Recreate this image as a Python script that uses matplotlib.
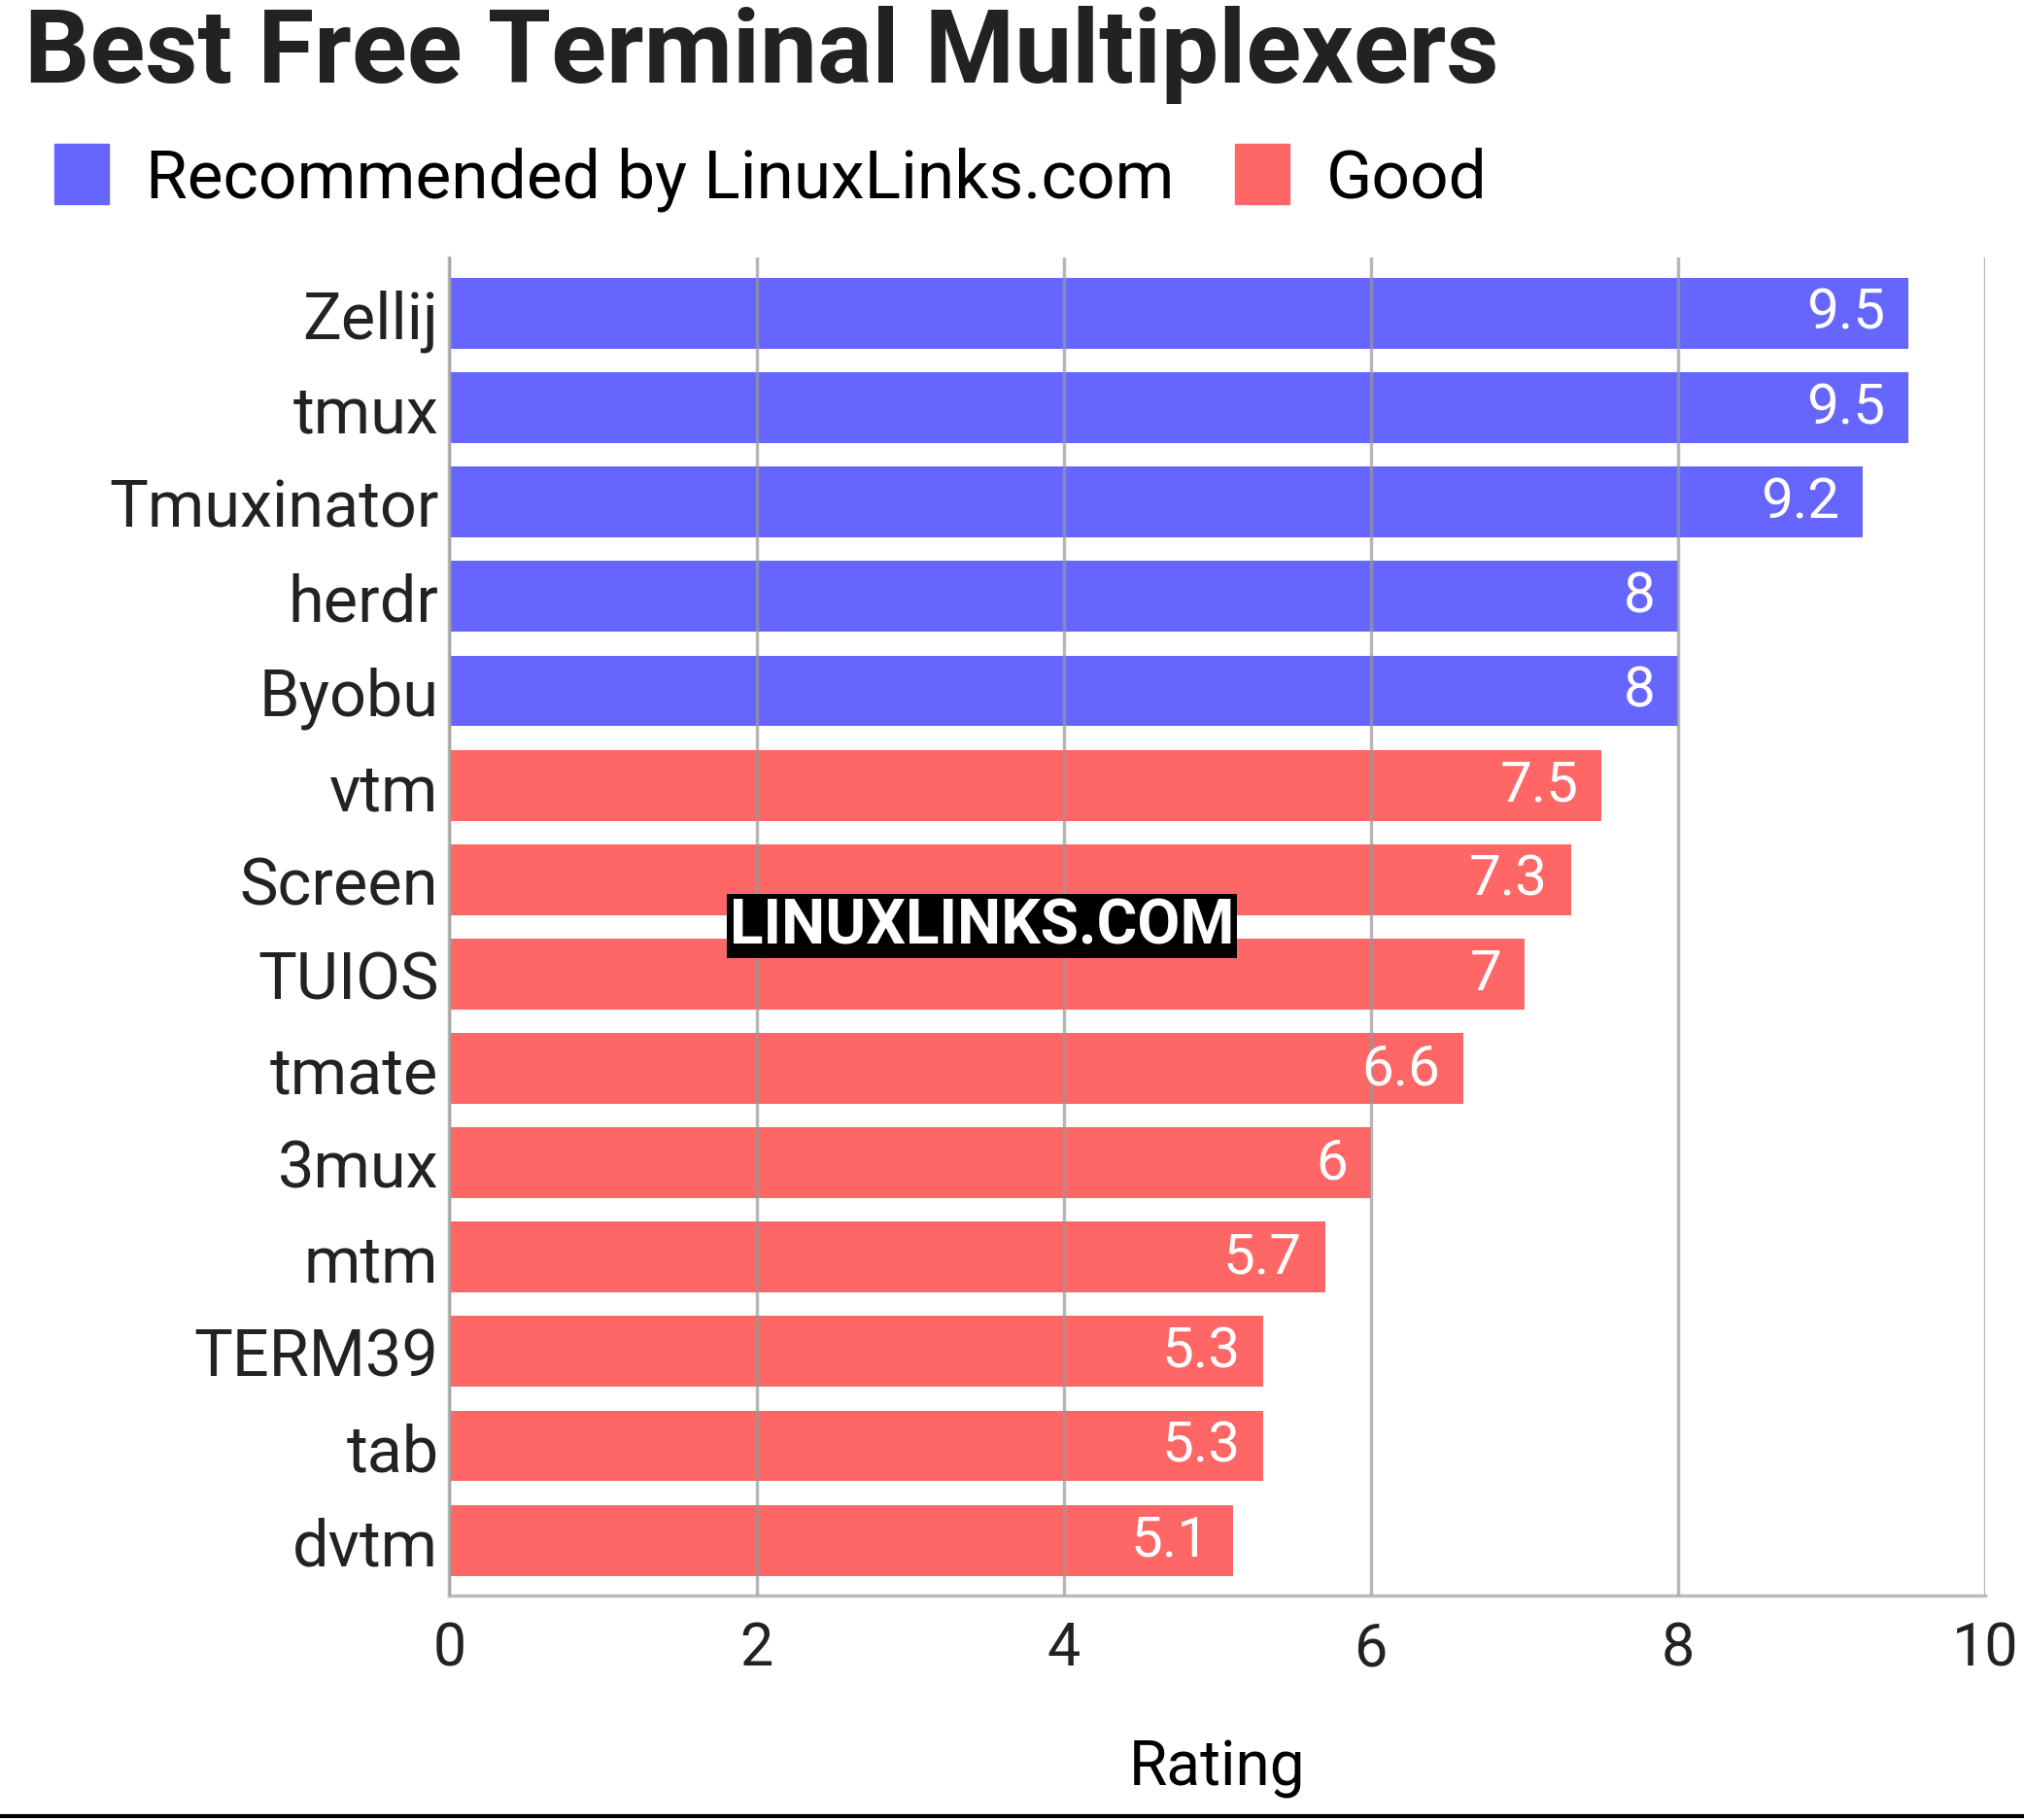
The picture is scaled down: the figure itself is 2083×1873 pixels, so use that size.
import matplotlib.pyplot as plt
from matplotlib.patches import Patch

plt.rcParams['font.family'] = ['Roboto', 'DejaVu Sans']

names = ['Zellij', 'tmux', 'Tmuxinator', 'herdr', 'Byobu', 'vtm', 'Screen', 'TUIOS',
         'tmate', '3mux', 'mtm', 'TERM39', 'tab', 'dvtm']
ratings = [9.5, 9.5, 9.2, 8, 8, 7.5, 7.3, 7, 6.6, 6, 5.7, 5.3, 5.3, 5.1]
groups = ['rec'] * 5 + ['good'] * 9
colors = {'rec': '#6666ff', 'good': '#ff6666'}

fig = plt.figure(figsize=(20.83, 18.74), dpi=100)
ax = fig.add_axes([0.222, 0.123, 0.759, 0.735])

y = list(range(len(names)))
ax.barh(y, ratings, height=0.75, color=[colors[g] for g in groups], zorder=1)
for yi, r in zip(y, ratings):
    ax.text(r - 0.15, yi, f'{r:g}', ha='right', va='center', color='white', fontsize=42, zorder=3)

ax.set_ylim(13.59, -0.59)
ax.set_xlim(0, 10)
ax.set_yticks(y)
ax.set_yticklabels(names, fontsize=48, color='#222222')
ax.set_xticks([0, 2, 4, 6, 8, 10])
ax.tick_params(axis='x', labelsize=44, colors='#222222', length=0, pad=18)
ax.tick_params(axis='y', length=0, pad=8)
ax.xaxis.grid(True, color='#999999', linewidth=2.5, alpha=0.7, zorder=2)
ax.set_axisbelow(False)
for s in ['top', 'right']:
    ax.spines[s].set_visible(False)
ax.spines['left'].set_color('#bbbbbb')
ax.spines['bottom'].set_color('#bbbbbb')
ax.spines['left'].set_linewidth(2.5)
ax.spines['bottom'].set_linewidth(2.5)
ax.set_xlabel('Rating', fontsize=46, labelpad=45)

fig.text(0.012, 0.97, 'Best Free Terminal Multiplexers', fontsize=76, fontweight='bold',
         va='center', color='#222222')
handles = [Patch(color=colors['rec'], label='Recommended by LinuxLinks.com'),
           Patch(color=colors['good'], label='Good')]
fig.legend(handles=handles, loc='center left', bbox_to_anchor=(-0.003, 0.902), ncol=2,
           frameon=False, fontsize=50, handlelength=0.8, handleheight=1.0,
           columnspacing=0.9, handletextpad=0.55)

fig.text(0.485, 0.491, 'LINUXLINKS.COM', fontsize=46, fontweight='bold', color='white',
         ha='center', va='center', bbox=dict(facecolor='black', edgecolor='none', pad=2))
fig.add_artist(plt.Line2D([0, 1], [0.002, 0.002], color='black', linewidth=3))

fig.savefig('out.png')
